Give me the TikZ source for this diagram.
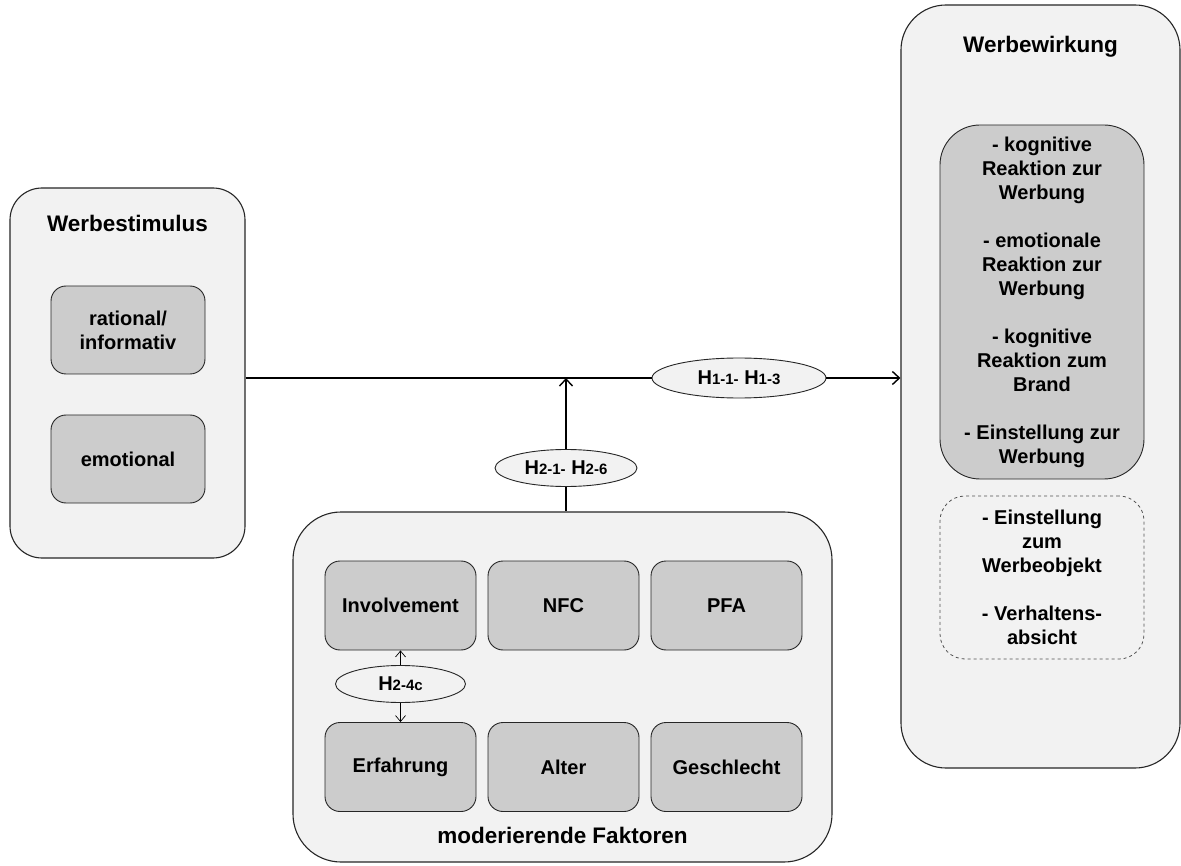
\documentclass[tikz,border=0pt]{standalone}
\usepackage{fontspec}
\setmainfont{Liberation Sans}
\usetikzlibrary{shapes.geometric,arrows.meta}
\definecolor{panelfill}{gray}{0.95}
\definecolor{cellfill}{gray}{0.80}
\definecolor{edge}{gray}{0.15}

\newcommand{\ttl}{\fontsize{22.5}{26}\selectfont\bfseries}
\newcommand{\txt}{\fontsize{20}{24}\selectfont\bfseries}
\newcommand{\hyp}[1]{{\fontsize{15}{16}\selectfont #1}}

\tikzset{
  outerbox/.style={draw=edge, line width=1.1pt, fill=panelfill, inner sep=0pt},
  cellbox/.style={draw=edge, line width=0.9pt, fill=cellfill, rounded corners=15pt,
    minimum width=151pt, minimum height=89pt, inner sep=0pt, align=center, font=\txt},
  hypo/.style={ellipse, draw=edge, line width=0.9pt, fill=panelfill, inner sep=0pt, font=\txt},
  title/.style={font=\ttl, inner sep=0pt},
  flow/.style={line width=1.7pt, -{Straight Barb[length=7pt,width=13pt,line width=1.4pt]}},
  plainflow/.style={line width=1.7pt},
  thinflow/.style={line width=0.7pt, -{Straight Barb[length=6pt,width=10pt,line width=0.7pt]}}
}

\begin{document}
\begin{tikzpicture}[x=1pt,y=-1pt]
\useasboundingbox (0,0) rectangle (1181,866);
\fill[white] (0,0) rectangle (1181,866);

% stimulus panel
\node[outerbox, rounded corners=32pt, minimum width=235pt, minimum height=370pt] (ws) at (127.5,373) {};
\node[title] (wst) at (127.5,223) {Werbestimulus};
\node[cellbox, minimum width=154pt, minimum height=88pt] (rat) at (128,330) {rational/\\informativ};
\node[cellbox, minimum width=154pt, minimum height=88pt] (emo) at (128,459) {emotional};

% effect panel
\node[outerbox, rounded corners=45pt, minimum width=279pt, minimum height=763pt] (ww) at (1040.5,386.5) {};
\node[title] (wwt) at (1040.5,47) {Werbewirkung};
\node[cellbox, rounded corners=40pt, minimum width=204pt, minimum height=354pt] (eff) at (1042,302)
  {- kognitive\\Reaktion zur\\Werbung\\[24pt]- emotionale\\Reaktion zur\\Werbung\\[24pt]- kognitive\\Reaktion zum\\Brand\\[24pt]- Einstellung zur\\Werbung};
\node[cellbox, fill=panelfill, draw=edge!80, line width=0.8pt, dashed, rounded corners=25pt,
  minimum width=204pt, minimum height=163pt] (oth) at (1042,577.5)
  {- Einstellung\\zum\\Werbeobjekt\\[24pt]- Verhaltens-\\absicht};

% moderating factors panel
\node[outerbox, rounded corners=48pt, minimum width=539pt, minimum height=350pt] (mod) at (562.5,687) {};
\node[title] (modt) at (562.5,835) {moderierende Faktoren};
\node[cellbox] (inv) at (400.5,605.5) {Involvement};
\node[cellbox] (nfc) at (563.5,605.5) {NFC};
\node[cellbox] (pfa) at (726.5,605.5) {PFA};
\node[cellbox] (erf) at (400.5,767) {Erfahrung};
\node[cellbox] (alt) at (563.5,767) {Alter};
\node[cellbox] (ges) at (726.5,767) {Geschlecht};

% hypotheses
\node[hypo, minimum width=174pt, minimum height=40pt] (h1) at (739,378) {H\hyp{1-1-} H\hyp{1-3}};
\node[hypo, minimum width=142pt, minimum height=37pt] (h2) at (566,468) {H\hyp{2-1-} H\hyp{2-6}};
\node[hypo, minimum width=130pt, minimum height=37pt] (h24) at (400.5,684) {H\hyp{2-4c}};

% connectors
\draw[plainflow] (ws.east |- h1.west) -- (h1.west);
\draw[flow] (h1.east) -- (ww.west |- h1.east);
\draw[flow] (h2.north) -- (h2.north |- h1.west);
\draw[plainflow] (h2.south) -- (h2.south |- mod.north);
\draw[thinflow] (h24.north) -- (h24.north |- inv.south);
\draw[thinflow] (h24.south) -- (h24.south |- erf.north);
\end{tikzpicture}
\end{document}
